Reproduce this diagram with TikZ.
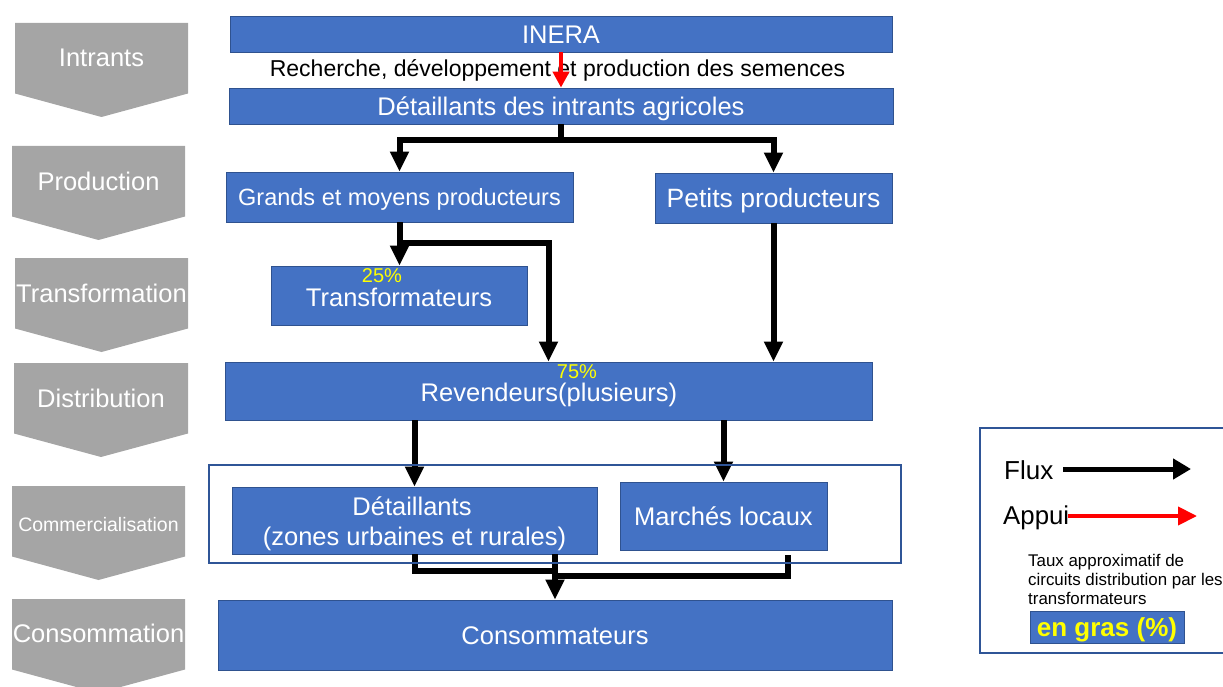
\documentclass[tikz,border=0pt]{standalone}
\usepackage{fontspec}
\setmainfont{Liberation Sans}
\usetikzlibrary{arrows.meta}
\definecolor{boxblue}{HTML}{4472C4}
\definecolor{boxedge}{HTML}{2F528F}
\definecolor{stagegray}{HTML}{A5A5A5}
\definecolor{groupedge}{HTML}{2F5597}
\definecolor{pctyellow}{HTML}{FFFF00}
\newcommand\fsz[1]{\fontsize{#1}{#1}\selectfont}

\begin{document}
\begin{tikzpicture}[x=1pt,y=-1pt,
  box/.style={draw=boxedge, line width=0.8pt, fill=boxblue, text=white,
    inner sep=0pt, text height=18.3pt, text depth=0pt, font=\fsz{25.5}},
  stage/.style={text=white, anchor=base, inner sep=0pt},
  flowline/.style={line width=6pt, black},
  flow/.style={flowline, -{Triangle[width=18pt,length=20pt]}},
  appui/.style={line width=4pt, red, -{Triangle[width=16pt,length=16pt]}},
  pct/.style={text=pctyellow, anchor=base, font=\fsz{20}, inner sep=0pt},
  plain/.style={anchor=base, inner sep=0pt},
  legtext/.style={anchor=base west, inner sep=0pt},
]
\useasboundingbox (0,0) rectangle (1223,687);

% stage chevrons on the left
\foreach \xa/\xb/\ya/\yb/\nm/\fs/\txt in {
  15/188/23/67/stIntrants/25.5/Intrants,
  12/185/146/191/stProduction/25.5/Production,
  15/188/258/302.5/stTransformation/25.5/Transformation,
  14/188/363/407/stDistribution/25.5/Distribution,
  12/185/486/531.5/stCommercialisation/19.5/Commercialisation,
  12/185/599/642/stConsommation/25.5/Consommation}{
  \fill[stagegray] (\xa,\ya) -- (\xb,\ya) -- (\xb,\ya+70.5)
    -- ({(\xa+\xb)/2},\ya+94) -- (\xa,\ya+70.5) -- cycle;
  \node[stage, font=\fsz{\fs}] (\nm) at ({(\xa+\xb)/2},\yb) {\txt};
}

% actors of the chain
\node[box, minimum width=662pt, minimum height=36pt] (inera) at (561,34) {INERA};
\node[plain, font=\fsz{23}] (rd) at (557.5,77) {Recherche, développement et production des semences};
\node[box, minimum width=664pt, minimum height=36pt] (detint) at (561,106) {Détaillants des intrants agricoles};
\node[box, minimum width=347pt, minimum height=50pt, font=\fsz{23.5}, text height=16.8pt] (grands) at (399.5,197) {Grands et moyens producteurs};
\node[box, minimum width=237pt, minimum height=50pt, font=\fsz{26.5}, text height=19pt] (petits) at (773.5,198) {Petits producteurs};
\node[box, minimum width=256pt, minimum height=59pt] (transf) at (399,295.5) {};
\node[plain, text=white, font=\fsz{25.5}] (transflbl) at (399,306) {Transformateurs};
\node[pct] (pct25) at (382,282) {25\%};
\node[box, minimum width=647pt, minimum height=58pt] (reven) at (548.5,391) {};
\node[plain, text=white, font=\fsz{25.5}] (revenlbl) at (549,401) {Revendeurs(plusieurs)};
\node[pct] (pct75) at (577,378.5) {75\%};
\node[box, minimum width=365pt, minimum height=67pt] (detz) at (414.5,520.5) {};
\node[plain, text=white, font=\fsz{25.5}] (detzA) at (412,515) {Détaillants};
\node[plain, text=white, font=\fsz{25.5}] (detzB) at (414.5,545) {(zones urbaines et rurales)};
\node[box, minimum width=207pt, minimum height=68pt] (marches) at (723.5,516) {Marchés locaux};
\node[box, minimum width=674pt, minimum height=70pt] (conso) at (555,635) {Consommateurs};

% support arrow
\draw[appui] (inera.south) -- (detint.north);

% product flows
\draw[flow] (detint.south) -- ++(0,16) -| (grands.north);
\draw[flow] (detint.south) -- ++(0,16) -| (petits.north);
\draw[flow] (grands.south) -- (grands.south |- transf.north);
\draw[flow] (grands.south) -- ++(0,21) -| (reven.north);
\draw[flow] (petits.south) -- (petits.south |- reven.north);
\draw[flow] (detz.north |- reven.south) -- (detz.north);
\draw[flow] (marches.north |- reven.south) -- (marches.north);
\coordinate (jl) at (556,571);
\coordinate (mr) at (788,555);
\coordinate (jr) at (556,576);
\draw[flowline] (detz.south) |- (jl);
\draw[flowline] (mr) |- (jr);
\draw[flow] (detz.south -| conso.north) -- (conso.north);

% retail group frame
\node[draw=groupedge, line width=2pt, minimum width=692pt, minimum height=98pt, inner sep=0pt] (commerce) at (555,514) {};

% legend
\node[draw=groupedge, line width=1.5pt, minimum width=262pt, minimum height=225pt, inner sep=0pt] (legend) at (1111,540.5) {};
\node[legtext, font=\fsz{26}] (fluxlbl) at (1004,479) {Flux};
\node[legtext, font=\fsz{25.8}] (appuilbl) at (1003,524) {Appui};
\coordinate (fluxa) at (1063,469);
\coordinate (fluxb) at (1191,469);
\coordinate (appa) at (1068,516);
\coordinate (appb) at (1197,516);
\draw[line width=5pt, -{Triangle[width=20pt,length=18pt]}] (fluxa) -- (fluxb);
\draw[line width=4pt, red, -{Triangle[width=18pt,length=19pt]}] (appa) -- (appb);
\node[legtext, font=\fsz{16.9}] (taux1) at (1028,566) {Taux approximatif de};
\node[legtext, font=\fsz{16.9}] (taux2) at (1028,585) {circuits distribution par les};
\node[legtext, font=\fsz{16.9}] (taux3) at (1028,604) {transformateurs};
\node[box, minimum width=154pt, minimum height=32pt, text=pctyellow,
  font=\bfseries\fsz{26}, text height=18.8pt] (engras) at (1107,627) {en gras (\%)};
\end{tikzpicture}
\end{document}
